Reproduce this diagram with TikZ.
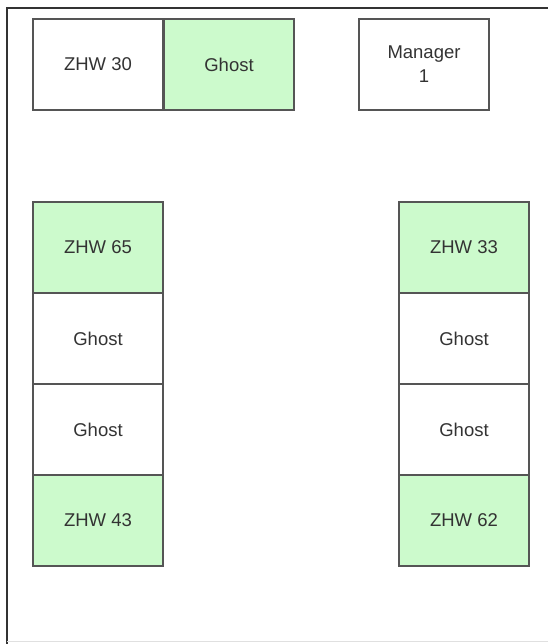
\documentclass[tikz,border=0pt]{standalone}
\usepackage{fontspec}
\setmainfont{Liberation Sans}
\definecolor{boxgreen}{HTML}{CCFACC}
\definecolor{edge}{HTML}{555555}
\definecolor{txt}{HTML}{333333}
\begin{document}
\begin{tikzpicture}[x=1pt,y=-1pt,
  cell/.style={draw=edge,line width=1.5pt,minimum width=130pt,minimum height=91pt,
    inner sep=0pt,outer sep=0pt,anchor=north west,align=center,text=txt,
    font=\fontsize{18.5}{24}\selectfont,text depth=-2pt},
  gcell/.style={cell,fill=boxgreen}]
\useasboundingbox (0,0) rectangle (548,644);
\fill[white] (0,0) rectangle (548,644);
\draw[color=edge!60!black,line width=2pt] (7,644) -- (7,8) -- (548,8);
\draw[color=black!12,line width=1pt] (7,641) -- (548,641);
% top row
\node[cell]  (z30) at (33,19) {ZHW 30};
\node[gcell] (g1)  at (164,19) {Ghost};
\node[cell]  (m1)  at (359,19) {Manager\\1};
% left column
\node[gcell] (z65) at (33,202) {ZHW 65};
\node[cell]  (g2)  at (33,293) {Ghost};
\node[cell]  (g3)  at (33,384) {Ghost};
\node[gcell] (z43) at (33,475) {ZHW 43};
% right column
\node[gcell] (z33) at (399,202) {ZHW 33};
\node[cell]  (g4)  at (399,293) {Ghost};
\node[cell]  (g5)  at (399,384) {Ghost};
\node[gcell] (z62) at (399,475) {ZHW 62};
\end{tikzpicture}
\end{document}
